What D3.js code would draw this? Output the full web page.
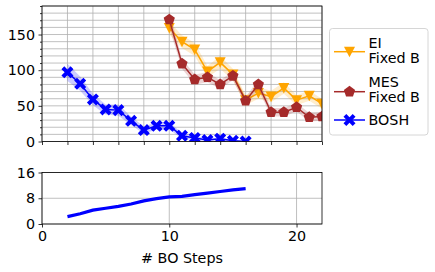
<!DOCTYPE html>
<html><head><meta charset="utf-8">
<script src="https://cdn.jsdelivr.net/npm/d3@7"></script>
<style>body{margin:0;background:#fff}svg{display:block}text{font-family:"DejaVu Sans",sans-serif;fill:#000}</style>
</head><body><svg id="c" width="435" height="272"></svg>
<script>
const boshX = [2,3,4,5,6,7,8,9,10,11,12,13,14,15,16];
const boshY = [97,81,59,45,44,29,16,22,22,8,5,2,4,1,0];
const boshS = [12,10,8,7,8,6,5,5,5,4,3,2,2,1,1];
const eiX = [10,11,12,13,14,15,16,17,18,19,20,21,22];
const eiY = [159,140,129,98,111,94,58,68,63,75,58,64,53];
const eiS = [9,9,9,8,9,8,7,8,8,8,7,7,7];
const mesX = [10,11,12,13,14,15,16,17,18,19,20,21,22];
const mesY = [171,109,87,90,80,92,57,80,41,41,48,34,35];
const mesS = [12,7,7,7,6,6,5,7,6,6,6,6,6];
const timeX = [2,3,4,5,6,7,8,9,10,11,12,13,14,15,16];
const timeY = [2.3,3.2,4.3,4.9,5.5,6.2,7.2,7.9,8.4,8.6,9.1,9.6,10.1,10.6,11.0];
const topYTicks = [0,50,100,150];
const botYTicks = [0,8,16];
const xTicks = [0,10,20];

const svg = d3.select("#c");
const L = 42, R = 322;
const x = d3.scaleLinear().domain([0,22]).range([L,R]);
const yT = d3.scaleLinear().domain([0,190]).range([141.5,6]);
const yB = d3.scaleLinear().domain([0,16]).range([224,172.5]);
const gridC = "#b0b0b0";

const defs = svg.append("defs");
defs.append("clipPath").attr("id","ct").append("rect").attr("x",L).attr("y",6).attr("width",R-L).attr("height",135.5);
defs.append("clipPath").attr("id","cb").append("rect").attr("x",L).attr("y",172.5).attr("width",R-L).attr("height",51.5);

const gT = svg.append("g");
d3.range(0,191,10).forEach(v=>gT.append("line").attr("x1",L).attr("x2",R).attr("y1",yT(v)).attr("y2",yT(v)).attr("stroke",gridC).attr("stroke-width",0.8));
d3.range(0,23,2).forEach(v=>gT.append("line").attr("x1",x(v)).attr("x2",x(v)).attr("y1",6).attr("y2",141.5).attr("stroke",gridC).attr("stroke-width",0.8));

const gB = svg.append("g");
botYTicks.forEach(v=>gB.append("line").attr("x1",L).attr("x2",R).attr("y1",yB(v)).attr("y2",yB(v)).attr("stroke",gridC).attr("stroke-width",0.8));
xTicks.forEach(v=>gB.append("line").attr("x1",x(v)).attr("x2",x(v)).attr("y1",172.5).attr("y2",224).attr("stroke",gridC).attr("stroke-width",0.8));

svg.append("g").attr("transform",`translate(${L},0)`).call(d3.axisLeft(yT).tickValues(topYTicks).tickSize(3.5).tickPadding(3.5));
svg.append("g").attr("transform",`translate(${L},0)`).call(d3.axisLeft(yT).tickValues(d3.range(0,191,10).filter(v=>v%50)).tickSize(2).tickFormat(""));
svg.append("g").attr("transform",`translate(0,141.5)`).call(d3.axisBottom(x).tickValues(d3.range(0,23,2)).tickSize(3.5).tickFormat(""));
svg.append("g").attr("transform",`translate(${L},0)`).call(d3.axisLeft(yB).tickValues(botYTicks).tickSize(3.5).tickPadding(3.5));
svg.append("g").attr("transform",`translate(0,224)`).call(d3.axisBottom(x).tickValues(xTicks).tickSize(3.5).tickPadding(3.5));
svg.selectAll(".domain").remove();
svg.selectAll(".tick text").attr("font-size",14.3).style("font-family","DejaVu Sans");
svg.selectAll(".tick line").attr("stroke","#000").attr("stroke-width",0.8);

const plot = svg.append("g").attr("clip-path","url(#ct)");
function poly(pts){return "M"+pts.map(p=>p[0].toFixed(2)+","+p[1].toFixed(2)).join("L")+"Z";}
const triDown = poly([[-5.5,-5],[5.5,-5],[0,5.5]]);
const pent = poly(d3.range(5).map(i=>{const a=-Math.PI/2+i*2*Math.PI/5;return [5.9*Math.cos(a),5.9*Math.sin(a)];}));
function plusRot(w,h){const p=[[-w,-h],[w,-h],[w,-w],[h,-w],[h,w],[w,w],[w,h],[-w,h],[-w,w],[-h,w],[-h,-w],[-w,-w]];const c=Math.SQRT1_2;return poly(p.map(q=>[c*(q[0]-q[1]),c*(q[0]+q[1])]));}
const xm = plusRot(2.0,6.5);

function series(xs, ys, ss, col, marker){
  const d = xs.map((v,i)=>({x:v,y:ys[i],s:ss[i]}));
  plot.append("path").datum(d).attr("d",d3.area().x(p=>x(p.x)).y0(p=>yT(p.y-p.s)).y1(p=>yT(p.y+p.s))).attr("fill",col).attr("opacity",0.2);
  plot.append("path").datum(d).attr("d",d3.line().x(p=>x(p.x)).y(p=>yT(p.y))).attr("fill","none").attr("stroke",col).attr("stroke-width",1.5);
  d.forEach(p=>plot.append("path").attr("d",marker).attr("transform",`translate(${x(p.x)},${yT(p.y)})`).attr("fill",col));
}
series(boshX,boshY,boshS,"#0000ff",xm);
series(eiX,eiY,eiS,"#ffa500",triDown);
series(mesX,mesY,mesS,"#a52a2a",pent);

const d2 = timeX.map((v,i)=>({x:v,y:timeY[i]}));
svg.append("g").attr("clip-path","url(#cb)").append("path").datum(d2).attr("d",d3.line().x(p=>x(p.x)).y(p=>yB(p.y))).attr("fill","none").attr("stroke","#0000ff").attr("stroke-width",3.2);

svg.append("rect").attr("x",L).attr("y",6).attr("width",R-L).attr("height",135.5).attr("fill","none").attr("stroke","#000").attr("stroke-width",0.8);
svg.append("rect").attr("x",L).attr("y",172.5).attr("width",R-L).attr("height",51.5).attr("fill","none").attr("stroke","#000").attr("stroke-width",0.8);

svg.append("text").attr("x",x(11)).attr("y",263).attr("text-anchor","middle").attr("font-size",14.3).text("# BO Steps");

const lg = svg.append("g");
lg.append("rect").attr("x",329.5).attr("y",28.5).attr("width",98.5).attr("height",106.5).attr("rx",3).attr("fill","#fff").attr("fill-opacity",0.8).attr("stroke","#cccccc").attr("stroke-width",0.8);
const legItems = [
  {lines:["EI","Fixed B"], col:"#ffa500", m:triDown, ly:51.7, ty:[42.7,58]},
  {lines:["MES","Fixed B"], col:"#a52a2a", m:pent, ly:91.7, ty:[81.7,97.3]},
  {lines:["BOSH"], col:"#0000ff", m:xm, ly:120, ty:[120]}
];
legItems.forEach(it=>{
  lg.append("line").attr("x1",334).attr("x2",365).attr("y1",it.ly).attr("y2",it.ly).attr("stroke",it.col).attr("stroke-width",1.5);
  lg.append("path").attr("d",it.m).attr("transform",`translate(349.5,${it.ly})`).attr("fill",it.col);
  it.lines.forEach((t,i)=>lg.append("text").attr("x",368.5).attr("y",it.ty[i]).attr("dy","0.36em").attr("font-size",14.3).text(t));
});
</script></body></html>
